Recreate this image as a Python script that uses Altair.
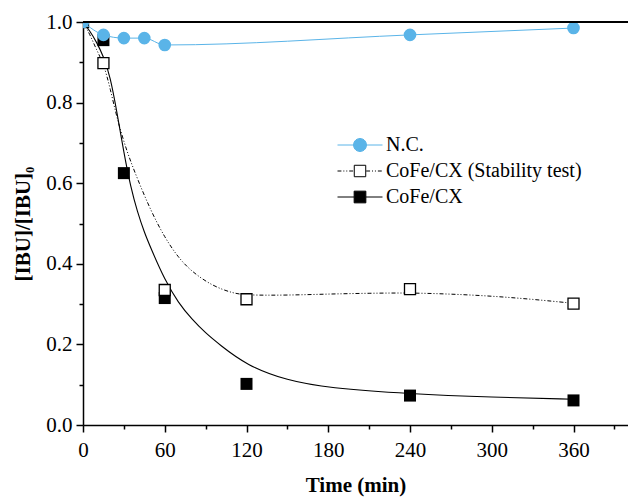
import math
import altair as alt
import pandas as pd

# ---- measured points: time (min) and normalised IBU concentration ----
t_nc = [0, 15, 30, 45, 60, 240, 360]
v_nc = [1.0, 0.968, 0.960, 0.960, 0.943, 0.968, 0.985]

t_cofe = [0, 15, 30, 60, 120, 240, 360]
v_cofe = [1.0, 0.955, 0.625, 0.315, 0.102, 0.073, 0.061]

t_stab = [0, 15, 60, 120, 240, 360]
v_stab = [1.0, 0.898, 0.335, 0.312, 0.337, 0.301]

# ---- fitted kinetic curves ----
fit_t_cofe = [0, 5, 10, 15, 20, 25, 30, 35, 40, 45, 50, 60, 70, 80, 90, 100,
              120, 150, 180, 240, 300, 360]
fit_v_cofe = [1.0, 0.978, 0.95, 0.915, 0.865, 0.775, 0.675, 0.59, 0.528, 0.478,
              0.437, 0.36, 0.303, 0.262, 0.228, 0.2, 0.148, 0.11, 0.092, 0.077,
              0.069, 0.064]

fit_t_stab = [0, 5, 10, 15, 20, 25, 32, 40, 50, 60, 70, 80, 95, 110, 120, 150,
              180, 210, 240, 270, 300, 330, 360]
fit_v_stab = [1.0, 0.97, 0.93, 0.898, 0.835, 0.76, 0.68, 0.61, 0.53, 0.465,
              0.415, 0.38, 0.345, 0.327, 0.322, 0.322, 0.325, 0.327, 0.328,
              0.325, 0.32, 0.312, 0.302]

NC = "N.C."
STAB = "CoFe/CX (Stability test)"
COFE = "CoFe/CX"
series_names = [NC, STAB, COFE]

BLUE = "#5AB4E8"
FONT = "Liberation Serif"

nc_df = pd.DataFrame({"t": t_nc, "v": v_nc})
cofe_df = pd.DataFrame({"t": t_cofe, "v": v_cofe})
stab_df = pd.DataFrame({"t": t_stab, "v": v_stab})
fit_cofe_df = pd.DataFrame({"t": fit_t_cofe, "v": fit_v_cofe})
fit_stab_df = pd.DataFrame({"t": fit_t_stab, "v": fit_v_stab})
legend_df = pd.DataFrame({"series": series_names, "t": [-1, -1, -1], "v": [0, 0, 0]})

axis_style = dict(
    domainColor="black", domainWidth=1.5, tickColor="black", tickWidth=1.5,
    grid=False, labelFont=FONT, labelFontSize=21, labelColor="black",
    labelFlush=False, labelOverlap=False,
    titleFont=FONT, titleFontSize=21, titleFontWeight="bold", titleColor="black",
)

# ---- axes: majors labelled, minors as short unlabelled ticks ----
x_axis = alt.Axis(
    values=list(range(0, 391, 30)),
    labelExpr="datum.value % 60 === 0 ? datum.label : ''",
    tickSize={"condition": {"test": "datum.value % 60 === 0", "value": 7}, "value": 4},
    title="Time (min)", labelPadding=7, titlePadding=14,
    **axis_style,
)
y_axis = alt.Axis(
    values=[round(i * 0.1, 1) for i in range(11)],
    labelExpr="round(datum.value * 10) % 2 === 0 ? format(datum.value, '.1f') : ''",
    tickSize={"condition": {"test": "round(datum.value * 10) % 2 === 0", "value": 7}, "value": 4},
    title="[IBU]/[IBU]₀", labelPadding=4, titlePadding=12,
    **axis_style,
)
X = alt.X("t:Q", scale=alt.Scale(domain=[0, 400], nice=False, zero=False), axis=x_axis)
Y = alt.Y("v:Q", scale=alt.Scale(domain=[0, 1.0], nice=False), axis=y_axis)

# ---- legend symbols: line segment with the marker in the middle ----
def circle_path(r, n=28):
    pts = [(r * math.cos(2 * math.pi * k / n), r * math.sin(2 * math.pi * k / n)) for k in range(n)]
    return "M" + "L".join(f"{x:.3f},{y:.3f}" for x, y in pts) + "Z"

def square_path(h):
    return f"M{-h},{-h}L{h},{-h}L{h},{h}L{-h},{h}Z"

def dashed_segments(a, b, pattern):
    out, pos, i, on = [], a, 0, True
    while pos < b:
        step = pattern[i % len(pattern)]
        end = min(pos + step, b)
        if on:
            out.append(f"M{pos:.3f},0L{end:.3f},0")
        pos, i, on = end, i + 1, not on
    return "".join(out)

HALF = 3.46
sym_nc = f"M{-HALF},0L-1,0M1,0L{HALF},0" + circle_path(1.0)
dash_pat = [0.6, 0.3, 0.15, 0.3, 0.15, 0.3]
sym_stab = dashed_segments(-HALF, -0.95, dash_pat) + dashed_segments(0.95, HALF, dash_pat) + square_path(0.88)
sym_cofe = f"M{-HALF},0L-0.9,0M0.9,0L{HALF},0" + square_path(0.9)

legend = alt.Legend(
    title=None, orient="none", legendX=267, legendY=113,
    labelFont=FONT, labelFontSize=20, labelColor="black", labelLimit=400,
    labelOffset=16, rowPadding=6, symbolSize=169, symbolStrokeWidth=1,
    symbolOpacity=1, padding=0,
)

fit_stab = alt.Chart(fit_stab_df).mark_line(
    color="black", strokeWidth=1, strokeDash=[4, 2, 1, 2, 1, 2], interpolate="basis"
).encode(x=X, y=Y)

fit_cofe = alt.Chart(fit_cofe_df).mark_line(
    color="black", strokeWidth=1.1, interpolate="basis"
).encode(x=X, y=Y)

cofe_pts = alt.Chart(cofe_df).mark_point(
    shape="square", filled=True, color="black", size=144, opacity=1, clip=True
).encode(x=X, y=Y)

stab_pts = alt.Chart(stab_df).mark_point(
    shape="square", filled=True, fill="white", stroke="black", strokeWidth=1.3,
    size=121, opacity=1, clip=True
).encode(x=X, y=Y)

nc_line = alt.Chart(nc_df).mark_line(
    color=BLUE, strokeWidth=1, interpolate="monotone"
).encode(x=X, y=Y)

nc_pts = alt.Chart(nc_df).mark_circle(
    color=BLUE, size=160, opacity=1, clip=True
).encode(x=X, y=Y)

top_rule = alt.Chart(nc_df).mark_rule(color="black", strokeWidth=1.5).encode(y=alt.datum(1.0))

legend_layer = alt.Chart(legend_df).transform_filter("datum.t >= 0").mark_point(
    filled=True, size=169, opacity=1, strokeWidth=1
).encode(
    x=X, y=Y,
    shape=alt.Shape("series:N", scale=alt.Scale(domain=series_names, range=[sym_nc, sym_stab, sym_cofe]), legend=legend),
    fill=alt.Fill("series:N", scale=alt.Scale(domain=series_names, range=[BLUE, "white", "black"]), legend=legend),
    stroke=alt.Stroke("series:N", scale=alt.Scale(domain=series_names, range=[BLUE, "black", "black"]), legend=legend),
)

chart = alt.layer(
    fit_stab, fit_cofe, cofe_pts, stab_pts, nc_line, nc_pts, top_rule, legend_layer
).properties(
    width=545, height=403,
    padding={"left": 83, "top": 22, "right": 0, "bottom": 72},
    autosize=alt.AutoSizeParams(type="none"),
).configure_view(
    stroke=None
).configure_axis(
    **axis_style
)

chart.save("out.html", embed_options={"renderer": "svg", "actions": False})
